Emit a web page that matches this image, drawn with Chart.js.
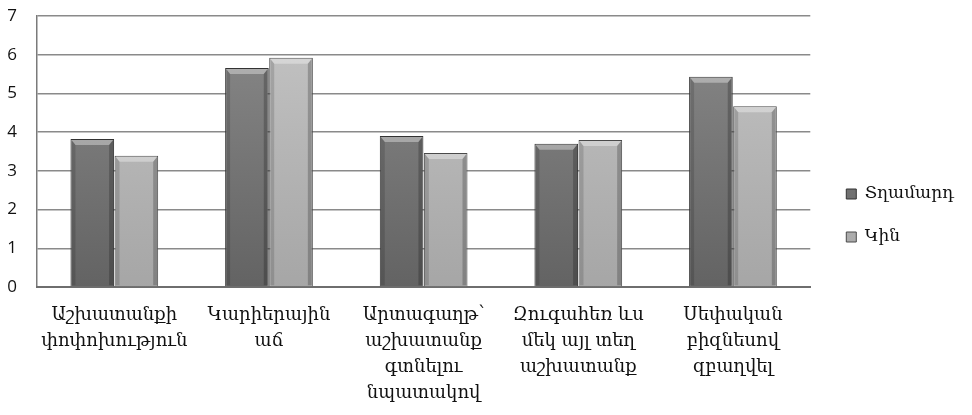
<!DOCTYPE html>
<html>
<head>
<meta charset="utf-8">
<script src="https://cdn.jsdelivr.net/npm/chart.js@4.4.1/dist/chart.umd.min.js"></script>
<style>
  html, body { margin: 0; padding: 0; background: #fff; }
  #wrap { width: 972px; height: 415px; position: relative; }
</style>
</head>
<body>
<div id="wrap"><canvas id="chart"></canvas></div>
<script>
// ── Data ──
const categories = [
  ['Աշխատանքի', 'փոփոխություն'],
  ['Կարիերային', 'աճ'],
  ['Արտագաղթ՝', 'աշխատանք', 'գտնելու', 'նպատակով'],
  ['Զուգահեռ ևս', 'մեկ այլ տեղ', 'աշխատանք'],
  ['Սեփական', 'բիզնեսով', 'զբաղվել']
];
const seriesNames = ['Տղամարդ', 'Կին'];
const menValues = [3.82, 5.66, 3.9, 3.7, 5.43];
const womenValues = [3.39, 5.92, 3.46, 3.8, 4.67];
const yTicks = [0, 1, 2, 3, 4, 5, 6, 7];

// ── Bar fill: vertical shaded gradient ──
function shade(top, bottom) {
  return (ctx) => {
    const chart = ctx.chart;
    const area = chart.chartArea;
    if (!area) return bottom;
    const g = chart.ctx.createLinearGradient(0, area.top, 0, area.bottom);
    g.addColorStop(0, top);
    g.addColorStop(1, bottom);
    return g;
  };
}

// ── Bevel look on each bar (top highlight + darker sides) ──
const bevelPlugin = {
  id: 'bevel',
  afterDatasetsDraw(chart) {
    const c = chart.ctx;
    chart.data.datasets.forEach((ds, i) => {
      const meta = chart.getDatasetMeta(i);
      meta.data.forEach(bar => {
        const { x, y, base, width } = bar.getProps(['x', 'y', 'base', 'width'], true);
        const l = x - width / 2, r = x + width / 2, b = 5;
        c.save();
        // top bevel
        c.beginPath();
        c.moveTo(l + 1, y + 1);
        c.lineTo(r - 1, y + 1);
        c.lineTo(r - b, y + b + 1);
        c.lineTo(l + b, y + b + 1);
        c.closePath();
        c.fillStyle = 'rgba(255,255,255,0.35)';
        c.fill();
        // left side
        c.beginPath();
        c.moveTo(l + 1, y + 1);
        c.lineTo(l + b, y + b + 1);
        c.lineTo(l + b, base - 1);
        c.lineTo(l + 1, base - 1);
        c.closePath();
        c.fillStyle = 'rgba(0,0,0,0.14)';
        c.fill();
        // right side
        c.beginPath();
        c.moveTo(r - 1, y + 1);
        c.lineTo(r - b, y + b + 1);
        c.lineTo(r - b, base - 1);
        c.lineTo(r - 1, base - 1);
        c.closePath();
        c.fillStyle = 'rgba(0,0,0,0.22)';
        c.fill();
        c.restore();
      });
    });
  }
};

const armenianFont = "'DejaVu Serif', serif";
const numFont = "'Open Sans', 'DejaVu Sans', sans-serif";

new Chart(document.getElementById('chart'), {
  type: 'bar',
  data: {
    labels: categories,
    datasets: [
      {
        label: seriesNames[0],
        data: menValues,
        backgroundColor: shade('#8a8a8a', '#636363'),
        borderColor: '#333333',
        borderWidth: 1,
        categoryPercentage: 0.57,
        barPercentage: 0.99
      },
      {
        label: seriesNames[1],
        data: womenValues,
        backgroundColor: shade('#c4c4c4', '#a6a6a6'),
        borderColor: '#4a4a4a',
        borderWidth: 1,
        categoryPercentage: 0.57,
        barPercentage: 0.99
      }
    ]
  },
  options: {
    responsive: true,
    maintainAspectRatio: false,
    animation: false,
    layout: { padding: { top: 16, left: 6, right: 8, bottom: 0 } },
    plugins: {
      tooltip: { enabled: false },
      legend: {
        position: 'right',
        labels: {
          boxWidth: 10,
          boxHeight: 10,
          padding: 26,
          color: '#111',
          font: { family: armenianFont, size: 17 }
        }
      }
    },
    scales: {
      y: {
        min: yTicks[0],
        max: yTicks[yTicks.length - 1],
        afterBuildTicks: (axis) => { axis.ticks = yTicks.map(v => ({ value: v })); },
        afterFit: (s) => { s.paddingTop = 0; s.paddingBottom = 0; s.width = 31; },
        border: { display: true, color: '#7a7a7a', width: 1.5 },
        grid: { color: '#8a8a8a', lineWidth: 1.5, drawTicks: false },
        ticks: {
          padding: 20,
          color: '#111',
          font: { family: numFont, size: 17 }
        }
      },
      // empty spacer on the right so the plot stops short of the legend
      yRight: {
        position: 'right',
        display: true,
        border: { display: false },
        grid: { display: false, drawTicks: false },
        ticks: { display: false },
        afterFit: (s) => { s.width = 10; }
      },
      x: {
        border: { display: true, color: '#6e6e6e', width: 2 },
        grid: { display: false, drawTicks: false },
        afterFit: (s) => { s.paddingLeft = 0; s.paddingRight = 0; s.height = 128; },
        ticks: {
          padding: 15,
          color: '#111',
          maxRotation: 0,
          autoSkip: false,
          font: { family: armenianFont, size: 18, lineHeight: 1.45 }
        }
      }
    }
  },
  plugins: [bevelPlugin]
});
</script>
</body>
</html>
